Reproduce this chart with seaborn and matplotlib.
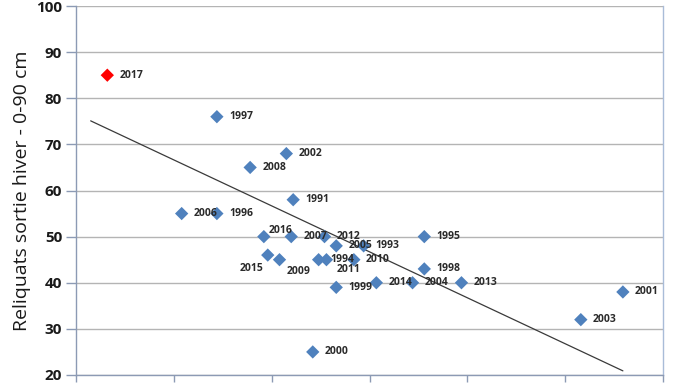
import matplotlib
matplotlib.use("Agg")
import matplotlib.pyplot as plt
import seaborn as sns
import pandas as pd

# ---- data ----
years = [2017, 1997, 2002, 2008, 1991, 2006, 1996, 2016, 2007, 2012, 2005, 1993,
         2015, 2009, 1994, 2011, 2010, 1999, 2014, 2004, 2013, 1995, 1998, 2001,
         2003, 2000]
x_values = [32, 144, 215, 178, 222, 108, 144, 192, 220, 254, 266, 294,
            196, 208, 248, 256, 284, 266, 307, 344, 394, 356, 356, 559,
            516, 242]
reliquats = [85, 76, 68, 65, 58, 55, 55, 50, 50, 50, 48, 48,
             46, 45, 45, 45, 45, 39, 40, 40, 40, 50, 43, 38,
             32, 25]
highlight_year = 2017
trend_x = [15, 559]
trend_y = [75.1, 20.9]
y_ticks = [20, 30, 40, 50, 60, 70, 80, 90, 100]
x_ticks = [0, 100, 200, 300, 400, 500, 600]
y_label = "Reliquats sortie hiver - 0-90 cm"

# label placement (pixel offsets of text left edge from marker centre)
label_offsets = {2016: (5, 6), 2015: (-28, -13), 2009: (7, -12), 2011: (10, -10)}
default_offset = (12, 0)

df = pd.DataFrame({"year": years, "x": x_values, "y": reliquats})
df["group"] = ["hl" if yr == highlight_year else "base" for yr in df["year"]]
trend = pd.DataFrame({"x": trend_x, "y": trend_y})

sns.set_theme(style="white")
plt.rcParams["font.family"] = ["Open Sans", "DejaVu Sans"]

fig = plt.figure(figsize=(6.9, 3.88), dpi=100)
ax = fig.add_axes([76 / 690, 13 / 388, (663 - 76) / 690, (375 - 6) / 388])

for yv in y_ticks:
    ax.axhline(yv, color="#b4b4b4", lw=1.0, zorder=0)

sns.lineplot(data=trend, x="x", y="y", ax=ax, color="#3a3a3a", lw=0.9,
             legend=False, zorder=2)
sns.scatterplot(data=df, x="x", y="y", hue="group",
                palette={"base": "#4F81BD", "hl": "#FF0000"},
                marker="D", s=46, edgecolor="none", legend=False, ax=ax,
                zorder=3)

for yr, xv, yv in zip(years, x_values, reliquats):
    dx, dy = label_offsets.get(yr, default_offset)
    ax.annotate(str(yr), (xv, yv), xytext=(dx, dy), textcoords="offset pixels",
                ha="left", va="center", fontsize=7.5, fontweight="bold",
                color="#2a2a2a", zorder=4)

ax.set_xlim(0, 600)
ax.set_ylim(20, 100)
ax.set_xticks(x_ticks)
ax.set_xticklabels([])
ax.set_yticks(y_ticks)
ax.set_yticklabels([str(t) for t in y_ticks], fontsize=11, fontweight="bold",
                   color="#1a1a1a")
ax.set_xlabel("")
ax.set_ylabel(y_label, fontsize=14, color="#1a1a1a", labelpad=4)
ax.tick_params(axis="y", direction="out", length=7, width=1, color="#8c9ab4",
               left=True, pad=3)
ax.tick_params(axis="x", direction="out", length=5, width=1, color="#8c9ab4",
               bottom=True)

for side in ["left", "bottom"]:
    ax.spines[side].set_color("#8c9ab4")
    ax.spines[side].set_linewidth(1.0)
ax.spines["right"].set_color("#a9bcd8")
ax.spines["right"].set_linewidth(1.0)
ax.spines["top"].set_visible(False)

fig.savefig("out.png", dpi=100)
